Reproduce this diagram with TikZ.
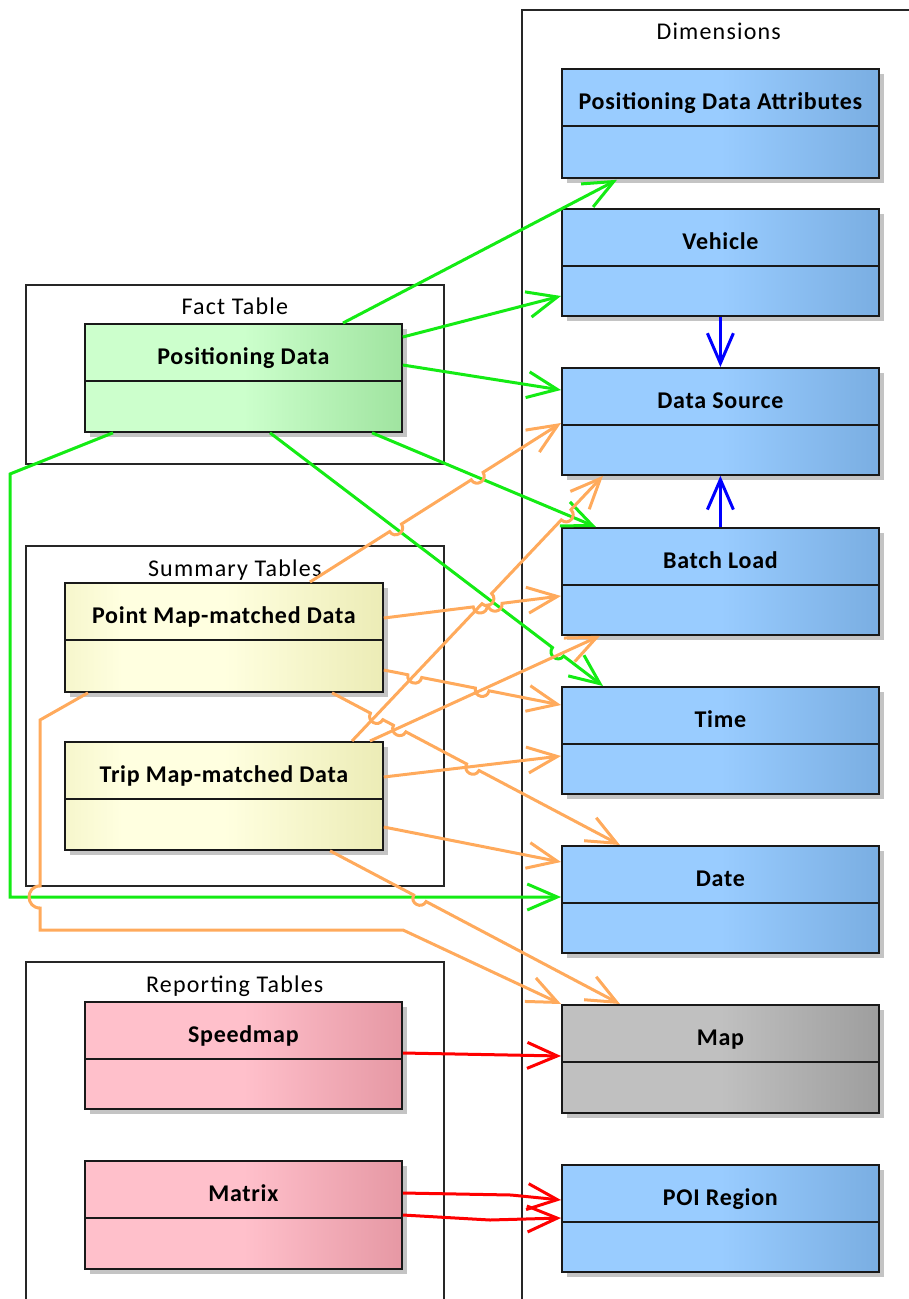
\documentclass[tikz,border=0pt]{standalone}
\usepackage{fontspec}
\setmainfont{Carlito}
\newfontfamily\pkgfont[LetterSpace=5]{Carlito}
\newfontfamily\classfont[LetterSpace=3]{Carlito}
\usetikzlibrary{calc,arrows.meta}

% fills of the class boxes
\definecolor{blueL}{RGB}{153,204,255}
\definecolor{blueR}{RGB}{122,174,226}
\definecolor{greenL}{RGB}{204,255,204}
\definecolor{greenR}{RGB}{160,228,160}
\definecolor{yellowE}{RGB}{246,246,204}
\definecolor{yellowL}{RGB}{255,255,224}
\definecolor{yellowR}{RGB}{236,236,182}
\definecolor{pinkL}{RGB}{255,192,203}
\definecolor{pinkR}{RGB}{230,152,164}
\definecolor{greyL}{RGB}{192,192,192}
\definecolor{greyR}{RGB}{158,158,158}
\definecolor{shadowgrey}{RGB}{196,196,196}
% connector colours
\definecolor{fkgreen}{RGB}{20,235,20}
\definecolor{fkorange}{RGB}{255,170,92}
\definecolor{fkblue}{RGB}{0,0,255}
\definecolor{fkred}{RGB}{255,0,0}

% left half flat, right half fading darker
\pgfdeclarehorizontalshading{blueshade}{100bp}{color(0bp)=(blueL); color(50bp)=(blueL); color(75bp)=(blueR); color(100bp)=(blueR)}
\pgfdeclarehorizontalshading{greenshade}{100bp}{color(0bp)=(greenL); color(50bp)=(greenL); color(75bp)=(greenR); color(100bp)=(greenR)}
\pgfdeclarehorizontalshading{yellowshade}{100bp}{color(0bp)=(yellowE); color(25bp)=(yellowE); color(34bp)=(yellowL); color(50bp)=(yellowL); color(75bp)=(yellowR); color(100bp)=(yellowR)}
\pgfdeclarehorizontalshading{pinkshade}{100bp}{color(0bp)=(pinkL); color(50bp)=(pinkL); color(75bp)=(pinkR); color(100bp)=(pinkR)}
\pgfdeclarehorizontalshading{greyshade}{100bp}{color(0bp)=(greyL); color(50bp)=(greyL); color(75bp)=(greyR); color(100bp)=(greyR)}

\tikzset{
  pkg/.style={draw=black!85, line width=1.5pt, anchor=north west, inner sep=0pt},
  pkgtitle/.style={font=\pkgfont\fontsize{24}{28}\selectfont, anchor=base, inner sep=0pt},
  classbox/.style={draw=black!90, line width=1.8pt, anchor=north west, inner sep=0pt},
  divider/.style={draw=black!90, line width=1.8pt},
  classtitle/.style={font=\classfont\bfseries\fontsize{24}{28}\selectfont, anchor=base, inner sep=0pt},
  conn/.style={line width=3pt, -{Straight Barb[length=30pt,width=26pt]}},
  fk green/.style={conn, draw=fkgreen},
  fk orange/.style={conn, draw=fkorange},
  fk blue/.style={conn, draw=fkblue},
  fk red/.style={conn, draw=fkred},
}

% class box: name, left, top, width, height, shading, title
\newcommand\umlclass[7]{%
  \fill[shadowgrey] (#2+6,#3+6) rectangle ++(#4,#5);
  \node[classbox, shading=#6, minimum width=#4pt, minimum height=#5pt] (#1) at (#2,#3) {};
  \draw[divider] ($(#1.north west)+(0,58)$) -- ($(#1.north east)+(0,58)$);
  \node[classtitle] (#1-t) at ($(#1.north)+(0,41)$) {#7};
}

% straight connector with line jumps at the given fractions of its length
\newcommand\hopline[4]{%
  \draw[#1] (#2) \foreach \hp in {#4}{ -- ($(#2)!\hp!(#3)!-7pt!(#3)$) to[bend right=90,looseness=1.7] ($(#2)!\hp!(#3)!7pt!(#3)$) } -- (#3);
}

\begin{document}
\begin{tikzpicture}[x=1pt,y=-1pt]
\useasboundingbox (0,0) rectangle (909,1299);
\clip (0,0) rectangle (909,1299);

% packages
\node[pkg, minimum width=394pt, minimum height=1320pt] (dims) at (521,9) {};
\node[pkgtitle] (dims-t) at ($(dims.north)+(0,30)$) {Dimensions};
\node[pkg, minimum width=418pt, minimum height=179pt] (fact) at (25,284) {};
\node[pkgtitle] (fact-t) at ($(fact.north)+(0,30)$) {Fact Table};
\node[pkg, minimum width=418pt, minimum height=340pt] (summ) at (25,545) {};
\node[pkgtitle] (summ-t) at ($(summ.north)+(0,31)$) {Summary Tables};
\node[pkg, minimum width=418pt, minimum height=360pt] (repo) at (25,961) {};
\node[pkgtitle] (repo-t) at ($(repo.north)+(0,31)$) {Reporting Tables};

% classes
\umlclass{pd}{84}{323}{317}{108}{greenshade}{Positioning Data}
\umlclass{pmd}{64}{582}{318}{109}{yellowshade}{Point Map-matched Data}
\umlclass{tmd}{64}{741}{318}{108}{yellowshade}{Trip Map-matched Data}
\umlclass{sm}{84}{1001}{317}{107}{pinkshade}{Speedmap}
\umlclass{mx}{84}{1160}{317}{108}{pinkshade}{Matrix}

\umlclass{pda}{561}{68}{317}{109}{blueshade}{Positioning Data Attributes}
\umlclass{veh}{561}{208}{317}{107}{blueshade}{Vehicle}
\umlclass{ds}{561}{367}{317}{107}{blueshade}{Data Source}
\umlclass{bl}{561}{527}{317}{107}{blueshade}{Batch Load}
\umlclass{tm}{561}{686}{317}{107}{blueshade}{Time}
\umlclass{dt}{561}{845}{317}{107}{blueshade}{Date}
\umlclass{mp}{561}{1004}{317}{108}{greyshade}{Map}
\umlclass{poi}{561}{1164}{317}{107}{blueshade}{POI Region}

% fact table references
\draw[fk green] ($(pd.north west)+(259,0)$) -- ($(pda.south west)+(56,1)$);
\draw[fk green] ($(pd.north east)+(0,14)$) -- ($(veh.north west)+(0,88)$);
\draw[fk green] ($(pd.north east)+(0,42)$) -- ($(ds.north west)+(0,23)$);
\draw[fk green] ($(pd.south west)+(288,0)$) -- ($(bl.north west)+(35,0)$);
\coordinate (g5s) at ($(pd.south west)+(186,0)$);
\coordinate (g5e) at ($(tm.north west)+(42,0)$);
\hopline{fk green}{g5s}{g5e}{0.865}
\draw[fk green] ($(pd.south west)+(29,0)$) -- (10,474) -- (10,897) -- ($(dt.north west)+(0,52)$);

% dimension to dimension
\draw[fk blue] (veh.south) -- (ds.north);
\draw[fk blue] (bl.north) -- (ds.south);

% summary table references
\coordinate (oas) at ($(pmd.north west)+(246,0)$);
\coordinate (oae) at ($(ds.north west)+(0,56)$);
\hopline{fk orange}{oas}{oae}{0.341,0.666}
\coordinate (obs) at ($(pmd.north east)+(0,36)$);
\coordinate (obe) at ($(bl.north west)+(0,69)$);
\hopline{fk orange}{obs}{obe}{0.544,0.628}
\coordinate (ocs) at ($(pmd.north east)+(0,88)$);
\coordinate (oce) at ($(tm.north west)+(0,19)$);
\hopline{fk orange}{ocs}{oce}{0.175,0.555}
\coordinate (ods) at ($(pmd.south west)+(268,0)$);
\coordinate (ode) at ($(dt.north west)+(59,0)$);
\hopline{fk orange}{ods}{ode}{0.155,0.235,0.489}
\draw[fk orange] ($(pmd.south west)+(24,0)$) -- (40,720) -- (40,886)
  to[out=180,in=180,looseness=1.7] (40,908) -- (40,930) -- (403,930) -- (mp.north west);
\coordinate (of1s) at ($(tmd.north west)+(288,0)$);
\coordinate (of1e) at ($(ds.south west)+(42,0)$);
\hopline{fk orange}{of1s}{of1e}{0.537,0.853}
\draw[fk orange] ($(tmd.north west)+(306,0)$) -- ($(bl.south west)+(39,0)$);
\draw[fk orange] ($(tmd.north east)+(0,36)$) -- ($(tm.north west)+(0,70)$);
\draw[fk orange] ($(tmd.north east)+(0,86)$) -- ($(dt.north west)+(0,17)$);
\coordinate (ois) at ($(tmd.south west)+(266,0)$);
\coordinate (oie) at ($(mp.north west)+(59,0)$);
\hopline{fk orange}{ois}{oie}{0.31}

% reporting table references
\draw[fk red] ($(sm.north east)+(0,52)$) -- ($(mp.north west)+(0,52)$);
\draw[fk red] ($(mx.north east)+(0,33)$) -- (511,1195) -- ($(poi.north west)+(0,36)$);
\draw[fk red] ($(mx.north east)+(0,55)$) -- (490,1220) -- ($(poi.north west)+(0,54)$);
\end{tikzpicture}
\end{document}
